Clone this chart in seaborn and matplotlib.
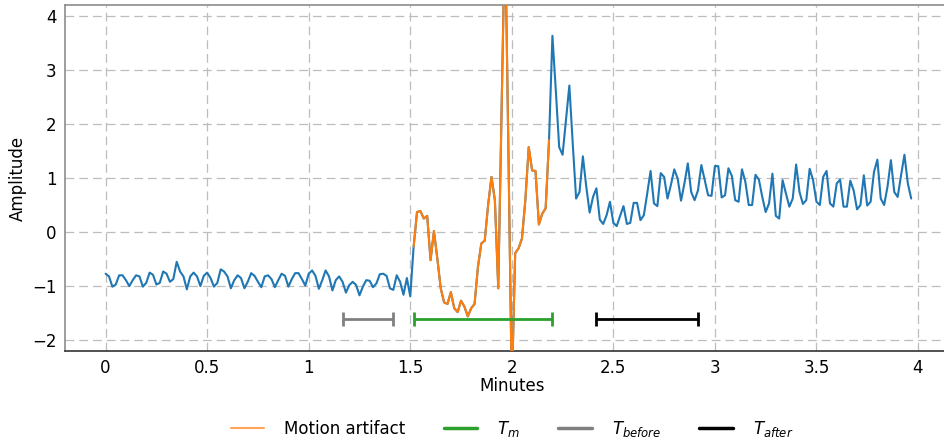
import numpy as np
import pandas as pd
import matplotlib
matplotlib.use("Agg")
import matplotlib.pyplot as plt
from matplotlib.lines import Line2D
import seaborn as sns

# Signal sampled once per second (time axis in minutes)
SAMPLES_PER_MINUTE = 60

# Quiet baseline before the movement
baseline = [
    -0.77, -0.82, -1.01, -0.97, -0.80, -0.80, -0.89, -1.00, -0.89, -0.80,
    -0.82, -1.01, -0.94, -0.75, -0.79, -0.97, -0.94, -0.73, -0.77, -0.92,
    -0.87, -0.55, -0.73, -0.82, -1.06, -0.82, -0.75, -0.82, -1.00, -0.81,
    -0.75, -0.85, -1.01, -0.94, -0.69, -0.73, -0.82, -1.04, -0.89, -0.80,
    -0.85, -1.04, -0.92, -0.76, -0.81, -0.92, -1.02, -0.82, -0.80, -0.87,
    -1.02, -0.89, -0.77, -0.81, -1.01, -0.87, -0.76, -0.76, -0.87, -0.99,
    -0.77, -0.71, -0.81, -1.05, -0.89, -0.71, -0.82, -1.08, -0.89, -0.82,
    -0.92, -1.12, -0.98, -0.92, -0.98, -1.17, -1.01, -0.89, -0.90, -1.02,
    -0.95, -0.78, -0.77, -0.81, -1.04, -1.07, -0.80, -0.92, -1.16, -0.85,
    -1.19,
]

# Segment corrupted by the motion artifact
artifact = [
    -0.27, 0.37, 0.39, 0.25, 0.30, -0.52, 0.02, -0.49, -1.04, -1.30,
    -1.33, -1.11, -1.41, -1.48, -1.27, -1.38, -1.56, -1.41, -1.33, -0.64,
    -0.21, -0.16, 0.50, 1.02, 0.59, -1.04, 2.30, 5.70, 1.50, -2.90,
    -0.39, -0.30, -0.12, 0.59, 1.57, 1.14, 1.13, 0.14, 0.34, 0.44,
    1.70,
]

# Recovery after the movement
recovery = [
    3.63, 2.62, 1.57, 1.43, 2.07, 2.71, 1.64, 0.62, 0.74, 1.40,
    0.84, 0.36, 0.65, 0.81, 0.23, 0.15, 0.31, 0.56, 0.17, 0.11,
    0.30, 0.48, 0.15, 0.17, 0.54, 0.54, 0.22, 0.31, 0.71, 1.13,
    0.53, 0.48, 1.09, 1.02, 0.62, 0.87, 1.16, 0.99, 0.58, 0.90,
    1.27, 0.74, 0.59, 0.77, 1.24, 0.96, 0.68, 0.67, 1.22, 1.22,
    0.64, 0.68, 1.18, 1.04, 0.59, 0.56, 1.16, 0.93, 0.50, 0.50,
    1.06, 0.97, 0.65, 0.37, 0.53, 1.08, 0.30, 0.25, 0.96, 0.71,
    0.47, 0.62, 1.25, 0.74, 0.52, 0.59, 1.17, 0.96, 0.56, 0.50,
    1.02, 1.13, 0.53, 0.47, 0.90, 0.97, 0.47, 0.47, 0.95, 0.77,
    0.42, 0.50, 1.05, 0.49, 0.56, 1.11, 1.34, 0.62, 0.50, 0.84,
    1.33, 0.74, 0.65, 1.05, 1.43, 0.90, 0.62,
]

# Analysis windows (start, end) in minutes
t_before = (70 / 60, 85 / 60)
t_m = (91 / 60, 132 / 60)
t_after = (145 / 60, 175 / 60)
window_level = -1.6

x_ticks = [0, 0.5, 1, 1.5, 2, 2.5, 3, 3.5, 4]
x_tick_labels = ["0", "0.5", "1", "1.5", "2", "2.5", "3", "3.5", "4"]

# ---------------------------------------------------------------------------
amplitude = np.array(baseline + artifact + recovery)
minutes = np.arange(len(amplitude)) / SAMPLES_PER_MINUTE
signal = pd.DataFrame({"Minutes": minutes, "Amplitude": amplitude})

a0 = len(baseline)
a1 = a0 + len(artifact)
artifact_df = signal.iloc[a0:a1]

sns.set_style("white")
plt.rcParams["font.family"] = ["DejaVu Sans"]
plt.rcParams["text.color"] = "black"
plt.rcParams["axes.labelcolor"] = "black"

fig = plt.figure(figsize=(9.45, 4.41), dpi=100)
ax = fig.add_axes([65 / 945, 90 / 441, (958.6 - 65) / 945, 346 / 441])

sns.lineplot(data=signal, x="Minutes", y="Amplitude", ax=ax,
             color="tab:blue", lw=1.5, zorder=3)
sns.lineplot(data=artifact_df, x="Minutes", y="Amplitude", ax=ax,
             color="tab:orange", lw=1.5, zorder=4)

for (start, end), col in [(t_before, "gray"), (t_m, "tab:green"),
                          (t_after, "black")]:
    ax.errorbar((start + end) / 2, window_level, xerr=(end - start) / 2,
                color=col, lw=2, capsize=5, capthick=2, zorder=5)

ax.set_xlim(-0.2, 4.2)
ax.set_ylim(-2.2, 4.2)
ax.set_xticks(x_ticks)
ax.set_xticklabels(x_tick_labels)
ax.set_yticks(range(-2, 5))

ax.grid(True, linestyle=(0, (7, 4)), color="#bdbdbd", lw=0.9)
ax.tick_params(direction="in", length=4, color="#aaaaaa",
               labelsize=12, pad=6, labelcolor="black")
ax.set_xlabel("Minutes", fontsize=12, labelpad=0)
ax.set_ylabel("Amplitude", fontsize=12, labelpad=4)

for side in ["top", "left", "right"]:
    ax.spines[side].set_color("#8c8c8c")
    ax.spines[side].set_linewidth(1.2)
ax.spines["bottom"].set_color("#333333")
ax.spines["bottom"].set_linewidth(1.2)

handles = [
    Line2D([], [], color="tab:orange", lw=1.5, alpha=0.7),
    Line2D([], [], color="tab:green", lw=2.5),
    Line2D([], [], color="gray", lw=2.5),
    Line2D([], [], color="black", lw=2.5),
]
labels = ["Motion artifact", r"$T_m$", r"$T_{before}$", r"$T_{after}$"]
fig.legend(handles, labels, loc="center", ncol=4, frameon=False, fontsize=12,
           handlelength=2.0, handletextpad=1.2, columnspacing=2.3,
           bbox_to_anchor=(512 / 945, 1 - 429 / 441))

fig.savefig("out.png", dpi=100)
